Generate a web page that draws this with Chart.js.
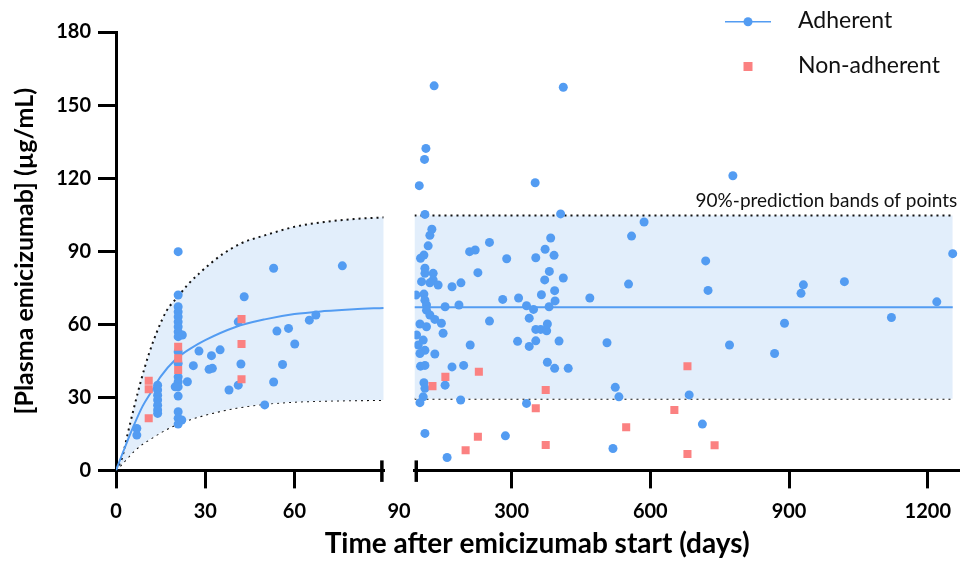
<!DOCTYPE html>
<html>
<head>
<meta charset="utf-8">
<script src="https://cdn.jsdelivr.net/npm/chart.js@4.4.1/dist/chart.umd.min.js"></script>
<style>
  html, body { margin: 0; padding: 0; background: #fff; }
  #myChart { display: block; }
</style>
</head>
<body>
<canvas id="myChart" width="964" height="566"></canvas>
<script>
const BLUE = '#539cf2';
const RED = '#fb8181';
const BAND = '#e2eefb';

// first 90 days
const adherentEarlyX = [7, 7, 14, 14, 14, 14, 14, 14, 14,
    20.9, 20.9, 20.9, 20.9, 20.9, 20.9, 20.9, 20.9, 20.9, 20.9, 20.9, 20.9, 20.9, 20.9, 20.9, 20.9, 20.9, 20.9,
    22.3, 22.1, 19.9, 27.9, 26.0, 24.0, 32.1, 35.0, 31.3, 32.4, 38.0, 41.1, 42.0, 41.1, 43.1,
    53.0, 76.1, 67.2, 65.0, 54.1, 58.0, 60.1, 56.0, 53.0, 50.0];
const adherentEarlyY = [17.2, 14.5, 35.0, 33.0, 30.9, 28.9, 26.8, 24.8, 23.4,
    89.8, 72.0, 67.2, 65.1, 63.1, 61.0, 59.0, 56.9, 54.9, 48.7, 43.9, 38.4, 36.4, 34.3, 30.5, 24.1, 21.4, 19.0,
    55.6, 20.7, 34.3, 49.0, 43.0, 36.4, 47.1, 49.5, 41.5, 41.9, 33.0, 35.0, 43.7, 61.0, 71.3,
    83.0, 84.0, 63.8, 61.7, 57.2, 58.3, 51.9, 43.5, 36.3, 26.9];
const nonAdherentEarlyX = [11.0, 11.0, 11.0, 20.9, 20.9, 20.9, 42.2, 42.2, 42.2];
const nonAdherentEarlyY = [36.8, 33.3, 21.4, 50.8, 46.0, 41.2, 62.1, 51.9, 37.4];

// after day 90
const adherentLateX = [132.5, 114.7, 111.7, 100.3, 351, 112.6, 127.6, 123.3, 119.6, 252.2, 209.2, 221.3, 110.4, 103.1,
    289.4, 352.3, 227.1, 112.6, 112.6, 130.4, 105.3, 130.4, 141.1, 123.3, 171.2, 190.5, 93.2, 110.4, 112.6,
    116.0, 116.0, 123.3, 156.2, 186.2, 280.8, 315.1, 332.3, 347.4, 338.1, 252.2, 134.0, 148.2, 151.9, 101.8,
    116.0, 94.5, 108.9, 98.2, 112.6, 101.8, 134.0, 210.5, 313.0, 338.1, 352.3, 352.3, 363.0, 375.9, 377.4,
    103.1, 112.6, 171.2, 196.3, 110.4, 112.6, 108.9, 101.8, 156.2, 189.9, 332.3, 112.6, 286.6, 160.5,
    411.8, 406.0, 586.5, 559.4, 384.5, 372.5, 391.8, 381.7, 371.6, 411.8, 393.1, 364.5, 552.9, 469.2, 394.0,
    381.1, 402.6, 506.3, 377.4, 393.1, 422.5, 524.2, 532.1, 519.2,
    778.5, 719.7, 724.8, 931.0, 925.9, 890.2, 771.2, 868.7, 684.0, 712.6, 1019.7, 1121.4, 1219.5, 1253.9];
const adherentLateY = [157.9, 132.2, 127.7, 116.9, 118.1, 105.1, 99.0, 96.5, 92.2, 93.6, 89.8, 90.5, 88.4, 87.1,
    86.9, 87.3, 81.2, 83.0, 80.9, 80.9, 77.5, 78.2, 76.1, 77.0, 75.4, 77.0, 72.0, 72.4, 69.9,
    67.9, 65.8, 63.8, 67.2, 67.9, 70.2, 70.8, 67.6, 66.1, 62.5, 61.3, 62.0, 60.4, 56.3, 60.1,
    59.0, 55.6, 53.5, 51.5, 49.3, 48.0, 47.8, 51.5, 53.0, 50.9, 53.2, 57.9, 57.9, 57.3, 60.1,
    42.8, 43.1, 42.5, 43.1, 36.0, 33.7, 30.2, 27.8, 35.0, 28.9, 27.5, 15.2, 14.2, 5.3,
    157.3, 105.3, 102.0, 96.2, 95.4, 90.8, 88.3, 81.7, 78.2, 79.0, 73.8, 72.1, 76.5, 70.8, 69.6,
    67.2, 53.1, 52.4, 44.4, 41.9, 41.9, 34.1, 30.2, 9.0,
    121.0, 86.0, 73.9, 76.2, 72.7, 60.4, 51.5, 48.0, 31.0, 19.0, 77.5, 62.8, 69.2, 89.0];
const nonAdherentLateX = [128.9, 156.8, 229.2, 227.1, 200.6, 352.3, 373.8, 373.8, 547.8, 652, 680.3, 680.3, 739.0];
const nonAdherentLateY = [34.6, 38.4, 40.5, 13.8, 8.3, 25.5, 33.0, 10.4, 17.7, 24.8, 42.8, 6.7, 10.3];

// fitted curve and 90% prediction bands
const curveEarlyX = [0, 3, 6, 9, 12, 15, 20, 25, 30, 40, 50, 60, 70, 80, 90];
const fitEarlyY = [0, 9.5, 18.5, 26.5, 32.5, 38.5, 45.5, 50, 53.5, 58.8, 62, 64.2, 65.4, 66.2, 66.7];
const lowerEarlyY = [0, 4, 8, 11, 13.3, 15.6, 18.7, 21, 22.8, 25.6, 27.3, 28.2, 28.6, 28.8, 28.9];
const upperEarlyX = [0, 2, 4, 6, 8.5, 11, 14, 17, 21, 24, 28, 32, 36, 42, 50, 60, 70, 80, 90];
const upperEarlyY = [0, 5, 15.4, 25.5, 37.3, 47.6, 57.6, 65.5, 71.6, 76.1, 80.9, 85.2, 88.9, 93.2, 96.5, 100, 102, 103.2, 103.9];
const curveLateX = [90, 1254];
const fitLateY = [67.0, 67.0];
const upperLateY = [104.7, 104.7];
const lowerLateY = [29.4, 29.4];

const leftTicks = [0, 30, 60];
const rightTicks = [300, 600, 900, 1200];
const gapLabel = '90';
const bandLabel = '90%-prediction bands of points';

function points(xs, ys) {
    return xs.map((x, i) => ({x: x, y: ys[i]}));
}

function scatterSet(label, xs, ys, axis, color, style, radius) {
    return {
        label: label,
        data: points(xs, ys),
        xAxisID: axis,
        yAxisID: 'y',
        backgroundColor: color,
        borderColor: color,
        borderWidth: 0,
        pointStyle: style,
        pointRadius: radius,
        showLine: false
    };
}

function lineSet(xs, ys, axis, dotted, fill) {
    return {
        data: points(xs, ys),
        xAxisID: axis,
        yAxisID: 'y',
        showLine: true,
        pointRadius: 0,
        borderColor: dotted ? '#111' : BLUE,
        borderWidth: 2,
        borderDash: dotted ? [2, 4] : [],
        backgroundColor: BAND,
        fill: fill ? '+1' : false,
        cubicInterpolationMode: 'monotone'
    };
}

// index 0 is drawn on top
const datasets = [
    scatterSet('Non-adherent', nonAdherentEarlyX, nonAdherentEarlyY, 'x1', RED, 'rect', 5.7),
    scatterSet('Non-adherent', nonAdherentLateX, nonAdherentLateY, 'x2', RED, 'rect', 5.7),
    scatterSet('Adherent', adherentEarlyX, adherentEarlyY, 'x1', BLUE, 'circle', 4.5),
    scatterSet('Adherent', adherentLateX, adherentLateY, 'x2', BLUE, 'circle', 4.5),
    lineSet(curveEarlyX, fitEarlyY, 'x1', false, false),
    lineSet(curveLateX, fitLateY, 'x2', false, false),
    lineSet(upperEarlyX, upperEarlyY, 'x1', true, true),
    lineSet(curveEarlyX, lowerEarlyY, 'x1', true, false),
    lineSet(curveLateX, upperLateY, 'x2', true, true),
    lineSet(curveLateX, lowerLateY, 'x2', true, false)
];

const tickFont = {family: 'Lato', size: 20, weight: 'bold'};
const axisGrid = {
    display: true,
    drawOnChartArea: false,
    drawTicks: true,
    tickLength: 18,
    lineWidth: 3,
    color: '#000'
};

function xAxis(min, max, weight, tickValues, extra) {
    return Object.assign({
        type: 'linear',
        position: 'bottom',
        stack: 'time',
        stackWeight: weight,
        min: min,
        max: max,
        border: {display: true, color: '#000', width: 3},
        grid: axisGrid,
        afterBuildTicks: function (scale) {
            scale.ticks = tickValues.map(v => ({value: v}));
        },
        afterFit: function (scale) {
            scale.height = 52;
            scale.paddingLeft = 0;
            scale.paddingRight = 0;
        },
        ticks: {
            autoSkip: false,
            maxRotation: 0,
            color: '#000',
            padding: 11,
            font: tickFont,
            callback: function (v) { return String(v); }
        }
    }, extra || {});
}

const decorations = {
    id: 'decorations',
    afterDraw(chart) {
        const ctx = chart.ctx;
        const x1 = chart.scales.x1;
        const x2 = chart.scales.x2;
        const y = chart.scales.y;
        const base = y.getPixelForValue(0);
        ctx.save();
        // axis break marks
        ctx.strokeStyle = '#000';
        ctx.lineWidth = 3.5;
        [x1.getPixelForValue(90) - 1.8, x2.getPixelForValue(90) + 1.8].forEach(function (px) {
            ctx.beginPath();
            ctx.moveTo(px, base - 10);
            ctx.lineTo(px, base + 11.5);
            ctx.stroke();
        });
        // band label
        ctx.fillStyle = '#111';
        ctx.font = '19px Lato';
        ctx.textAlign = 'right';
        ctx.textBaseline = 'middle';
        ctx.fillText(bandLabel, chart.chartArea.right - 1, y.getPixelForValue(upperLateY[0]) - 15);
        // legend
        ctx.textAlign = 'left';
        ctx.font = '23px Lato';
        ctx.strokeStyle = BLUE;
        ctx.lineWidth = 1.6;
        ctx.beginPath();
        ctx.moveTo(725, 21.7);
        ctx.lineTo(771, 21.7);
        ctx.stroke();
        ctx.fillStyle = BLUE;
        ctx.beginPath();
        ctx.arc(748, 21.7, 4.5, 0, Math.PI * 2);
        ctx.fill();
        ctx.fillStyle = RED;
        ctx.fillRect(743.5, 62, 9, 9);
        ctx.fillStyle = '#111';
        ctx.fillText('Adherent', 798, 21);
        ctx.fillText('Non-adherent', 798, 65.5);
        ctx.restore();
    }
};

new Chart(document.getElementById('myChart'), {
    type: 'scatter',
    data: {datasets: datasets},
    plugins: [decorations],
    options: {
        responsive: false,
        animation: false,
        devicePixelRatio: 1,
        layout: {padding: {top: 32, right: 0, left: 0, bottom: 0}},
        scales: {
            y: {
                type: 'linear',
                position: 'left',
                min: 0,
                max: 180,
                border: {display: true, color: '#000', width: 3},
                grid: axisGrid,
                afterFit: function (scale) {
                    scale.width = 116;
                },
                ticks: {
                    stepSize: 30,
                    color: '#000',
                    padding: 7,
                    font: tickFont
                },
                title: {
                    display: true,
                    text: '[Plasma emicizumab] (µg/mL)',
                    color: '#000',
                    font: {family: 'Lato', size: 25, weight: 'bold'},
                    padding: {top: 10, bottom: 0}
                }
            },
            x1: xAxis(0, 90, 269.5, leftTicks),
            xg: xAxis(0, 1, 31, [0.5], {
                border: {display: false},
                grid: {display: false, drawTicks: true, tickLength: 18},
                ticks: {
                    autoSkip: false,
                    maxRotation: 0,
                    color: '#000',
                    padding: 11,
                    font: tickFont,
                    callback: function () { return gapLabel; }
                }
            }),
            x2: xAxis(90, 1266, 547.5, rightTicks)
        },
        plugins: {
            legend: {display: false},
            tooltip: {enabled: false},
            title: {
                display: true,
                position: 'bottom',
                fullSize: false,
                text: 'Time after emicizumab start (days)',
                color: '#000',
                font: {family: 'Lato', size: 28, weight: 'bold'},
                padding: {top: 5, bottom: 5}
            }
        }
    }
});
</script>
</body>
</html>
